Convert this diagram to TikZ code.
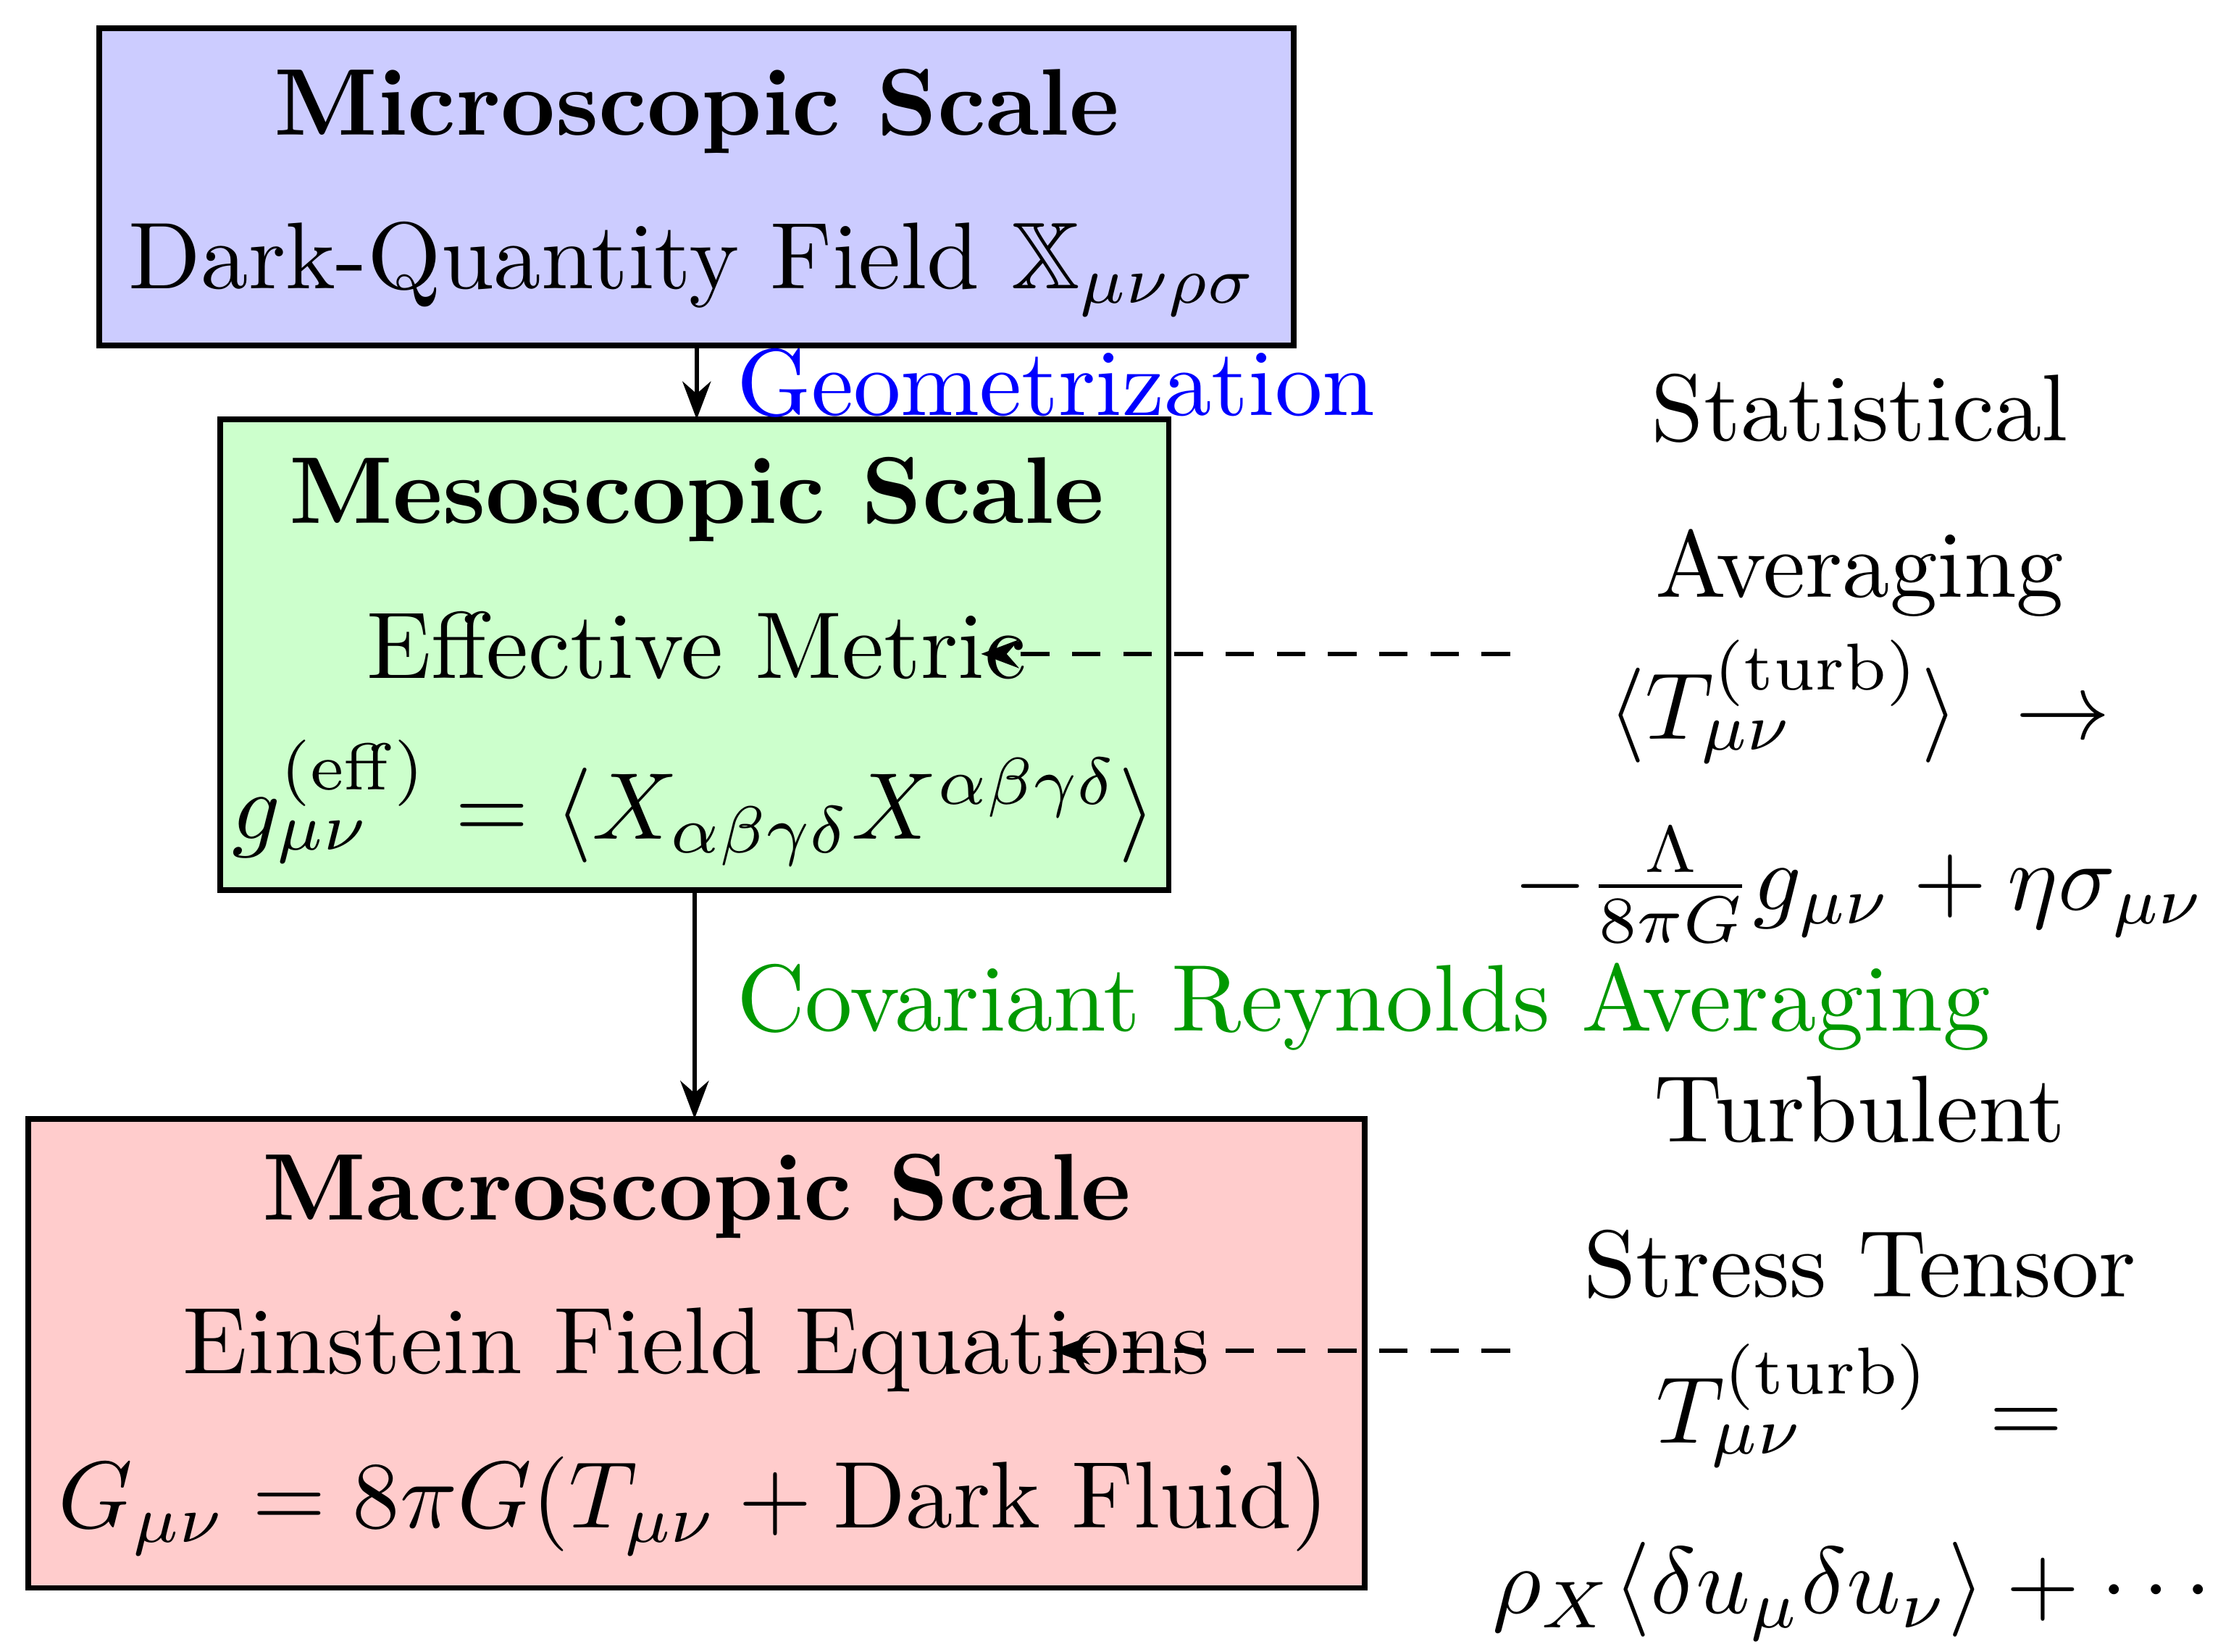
\documentclass[tikz,border=0pt]{standalone}
\usepackage{amsmath,amssymb}
\usetikzlibrary{arrows.meta}
\begin{document}
\begin{tikzpicture}[x=0.15pt,y=-0.15pt,
  box/.style={draw,line width=0.6pt,inner sep=0pt,outer sep=0pt},
  conn/.style={-{Stealth[length=4pt]},line width=0.45pt},
  dconn/.style={-{Stealth[length=4pt]},line width=0.45pt,dash pattern=on 3pt off 2.4pt},
  txt/.style={anchor=base,inner sep=0pt}]
\useasboundingbox (0,0) rectangle (1560,1162);
\node[box,fill=blue!20,minimum width=126pt,minimum height=33.45pt] (micro) at (490,131.5) {};
\node[box,fill=green!20,minimum width=100.05pt,minimum height=49.65pt] (meso) at (488.5,460.5) {};
\node[box,fill=red!20,minimum width=141pt,minimum height=49.5pt] (macro) at (490,952) {};
\node[txt] (t1) at (490,95) {\textbf{Microscopic Scale}};
\node[txt] (t2) at (488,203) {Dark-Quantity Field $\mathbb{X}_{\mu\nu\rho\sigma}$};
\node[txt] (t3) at (490,368) {\textbf{Mesoscopic Scale}};
\node[txt] (t4) at (490,477) {Effective Metric};
\node[txt] (t5) at (488,590) {$g_{\mu\nu}^{(\mathrm{eff})}=\langle X_{\alpha\beta\gamma\delta}X^{\alpha\beta\gamma\delta}\rangle$};
\node[txt] (t6) at (490,858) {\textbf{Macroscopic Scale}};
\node[txt] (t7) at (490,966) {Einstein Field Equations};
\node[txt] (t8) at (488,1075) {$G_{\mu\nu}=8\pi G(T_{\mu\nu}+\text{Dark Fluid})$};
\node[txt,anchor=base west,text=blue] (geo) at (517,292) {Geometrization};
\node[txt,anchor=base west,text=green!60!black] (cov) at (517,725) {Covariant Reynolds Averaging};
\node[txt] (r1) at (1308,310) {Statistical};
\node[txt] (r2) at (1308,420) {Averaging};
\node[txt] (r3) at (1308,520) {$\langle T_{\mu\nu}^{(\mathrm{turb})}\rangle\ \to$};
\node[txt] (r4) at (1308,640) {$-\frac{\Lambda}{8\pi G}g_{\mu\nu}+\eta\sigma_{\mu\nu}$};
\node[txt] (r5) at (1308,803) {Turbulent};
\node[txt] (r6) at (1308,912) {Stress Tensor};
\node[txt] (r7) at (1308,1015) {$T_{\mu\nu}^{(\mathrm{turb})}\ =$};
\node[txt] (r8) at (1308,1135) {$\rho_X\langle\delta u_\mu\delta u_\nu\rangle+\cdots$};
\draw[conn] (micro.south) -- (micro.south|-meso.north);
\draw[conn] (meso.south) -- (meso.south|-macro.north);
\coordinate (s1) at (1062,460); \coordinate (e1) at (690,460);
\coordinate (s2) at (1062,950); \coordinate (e2) at (740,950);
\draw[dconn] (s1) -- (e1);
\draw[dconn] (s2) -- (e2);
\end{tikzpicture}
\end{document}
